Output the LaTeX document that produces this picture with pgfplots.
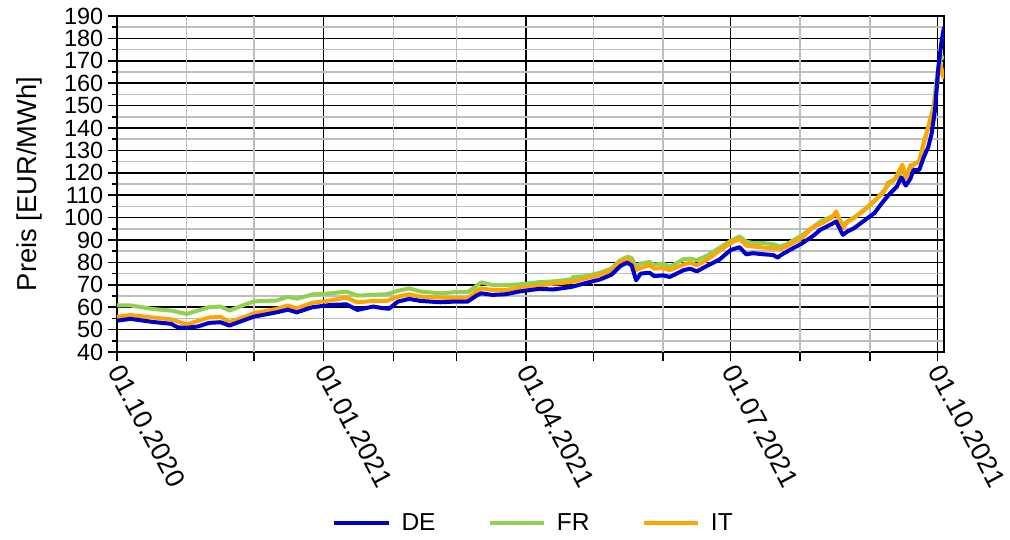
\documentclass[border=0pt]{standalone}
\usepackage{pgfplots}
\usepackage{pgfplotstable}
\pgfplotsset{compat=1.18}
\usepackage{fontspec}
\setmainfont{Liberation Sans}

\definecolor{deblue}{RGB}{0,0,204}
\definecolor{frgreen}{RGB}{146,208,80}
\definecolor{itorange}{RGB}{255,165,0}
\definecolor{gridgray}{RGB}{190,190,190}

% day = days since 01.10.2020, price in EUR/MWh
\pgfplotstableread{
day price
0 54.0
6 54.8
16 53.4
24 52.6
27 51.0
31 50.8
36 51.4
41 53.0
46 53.3
50 51.8
56 54.0
61 55.8
71 57.7
76 58.9
80 57.7
87 60.0
95 61.0
102 61.3
107 58.8
114 60.3
118 59.6
121 59.3
125 62.5
130 63.7
135 62.8
144 62.2
150 62.5
156 62.5
160 65.2
162 66.2
167 65.5
173 65.8
179 67.0
188 68.2
194 67.9
202 69.0
209 70.9
215 72.4
220 74.5
224 78.4
227 79.9
229 78.7
231 72.0
233 75.0
237 75.4
239 73.9
243 74.2
246 73.5
252 76.5
255 77.2
258 76.0
263 78.7
268 81.2
273 85.5
277 86.8
280 83.6
283 84.1
288 83.6
292 83.3
294 82.1
295 83.0
298 84.8
305 88.6
310 92.0
313 94.6
318 97.1
320 98.3
323 92.3
325 93.8
328 95.3
332 98.3
337 102.0
341 107.3
344 110.8
347 113.8
349 118.0
351 114.3
353 117.3
354.5 121.3
357 121.3
359 127.0
361 131.5
362.5 137.5
364 148.0
365.5 167.3
367 179.3
368 185.0
}\dedata

\pgfplotstableread{
day price
0 60.8
6 60.8
16 59.2
24 58.5
31 57.0
41 60.0
46 60.3
50 58.5
56 60.8
61 62.6
71 63.0
76 64.6
80 63.8
87 65.7
95 66.2
102 67.0
107 65.2
114 65.5
120 65.8
125 67.3
130 68.4
135 67.0
144 66.2
150 66.7
156 66.7
160 69.5
162 71.1
167 69.9
173 69.9
179 70.2
188 71.2
194 71.5
202 72.4
203 73.5
209 73.9
215 75.4
220 77.2
224 81.0
227 82.5
229 82.0
231 78.0
233 79.5
237 80.2
239 79.0
243 79.5
246 78.0
252 81.4
255 81.7
258 81.0
263 83.2
268 86.5
273 89.6
277 91.6
280 89.3
283 88.6
288 88.6
292 88.1
295 87.1
298 88.1
305 92.3
310 96.0
313 98.3
318 100.5
320 101.6
323 96.8
325 98.3
328 100.1
332 102.8
337 107.3
341 111.8
344 115.5
347 117.8
349.5 121.5
351 119.3
353 122.0
355 124.0
357 125.5
359 133.7
361.8 143.4
363.3 149.4
364.8 162.8
366.3 170.5
368 172.0
}\frdata

\pgfplotstableread{
day price
0 55.7
6 56.5
16 55.4
24 54.6
31 52.3
41 55.4
46 55.7
50 53.4
56 55.4
61 57.4
71 59.2
76 60.8
80 59.5
87 62.0
95 63.0
102 64.3
107 62.2
114 62.8
120 62.8
125 64.7
130 65.8
135 64.7
144 64.3
150 64.0
156 64.0
160 67.3
162 68.4
167 67.7
173 67.7
179 68.6
188 69.7
194 70.5
202 71.2
209 73.0
215 74.5
220 76.5
224 80.5
227 81.4
229 80.2
231 76.5
233 77.5
237 78.7
239 77.2
243 77.5
246 76.5
252 79.0
255 79.9
258 78.7
263 81.4
268 85.2
273 88.6
277 90.5
280 87.5
283 87.1
288 86.6
292 86.3
295 86.0
298 87.1
305 91.1
310 96.0
313 97.1
318 99.8
320 102.8
323 95.3
325 98.0
328 99.8
332 103.1
337 107.6
341 111.0
343 115.5
346 117.0
349.5 123.7
351 117.5
353 123.3
357 124.8
359 133.0
361.8 143.4
363.3 148.0
364.8 158.4
366.3 169.0
368 162.0
}\itdata

\begin{document}
\begin{tikzpicture}
\path[use as bounding box] (-87.75pt,-140.25pt) rectangle (669.75pt,264pt);
\begin{axis}[
    at={(0pt,0pt)}, anchor=south west,
    scale only axis,
    width=620.25pt, height=252pt,
    xmin=0, xmax=368, ymin=40, ymax=190,
    xtick={0,92,182,273,365},
    xticklabels={01.10.2020,01.01.2021,01.04.2021,01.07.2021,01.10.2021},
    extra x ticks={31,61,123,151,212,243,304,335},
    extra x tick labels={},
    extra x tick style={grid=major, major grid style={gridgray, line width=1.1pt}},
    ytick distance=10, minor y tick num=1,
    xmajorgrids, ymajorgrids, yminorgrids,
    major grid style={black, line width=1.1pt},
    minor grid style={gridgray, line width=1.1pt},
    axis line style={black, line width=1.5pt},
    tick style={black, line width=1.1pt},
    tick align=outside, tick pos=left,
    major tick length=6.75pt, minor tick length=3.75pt,
    /pgf/number format/assume math mode=true,
    ylabel={Preis [EUR/MWh]},
    ylabel style={at={(axis description cs:-0.1064,0.5)}, anchor=center,
        font=\fontsize{20.5}{24}\selectfont},
    yticklabel style={font=\fontsize{17.6}{20}\selectfont},
    xticklabel style={rotate=-62, anchor=west, yshift=-3pt,
        font=\fontsize{20}{24}\selectfont},
    legend style={at={(axis description cs:0.504,-0.509)}, anchor=center,
        draw=none, font=\fontsize{18.4}{22}\selectfont, legend columns=3,
        /tikz/every odd column/.append style={column sep=6pt},
        /tikz/every even column/.append style={column sep=37pt}},
    legend image code/.code={\draw[#1] (0pt,0pt) -- (41pt,0pt);},
    every axis plot/.append style={line width=3pt, line join=round, mark=none},
]
\addlegendimage{deblue, line width=3pt}
\addlegendentry{DE}
\addlegendimage{frgreen, line width=3pt}
\addlegendentry{FR}
\addlegendimage{itorange, line width=3pt}
\addlegendentry{IT}
\addplot[frgreen, forget plot] table[x=day, y=price] {\frdata};
\addplot[itorange, forget plot] table[x=day, y=price] {\itdata};
\addplot[deblue, forget plot] table[x=day, y=price] {\dedata};
\end{axis}
\end{tikzpicture}
\end{document}
